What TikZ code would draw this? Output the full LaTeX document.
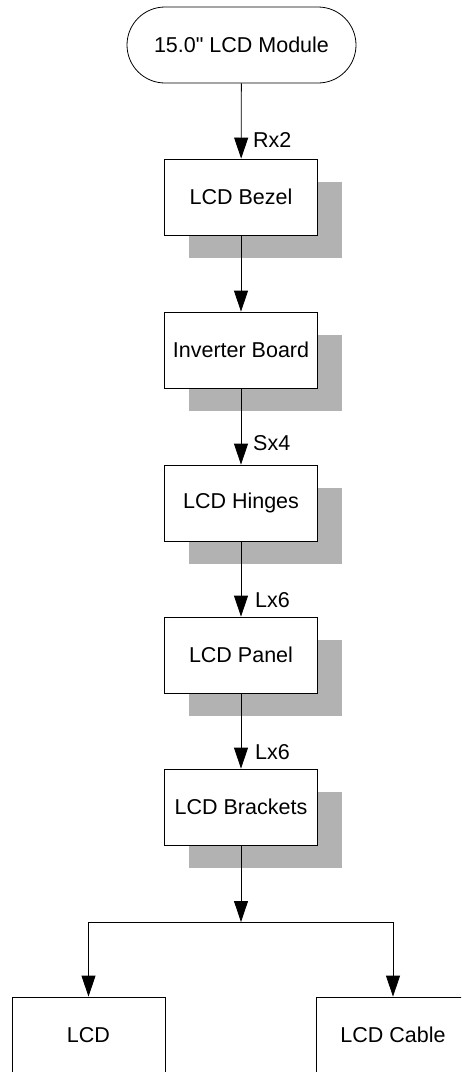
\documentclass[tikz,border=0pt]{standalone}
\usepackage{fontspec}
\setmainfont{Liberation Sans}[Ligatures=TeXOff]
\usetikzlibrary{arrows.meta}
\begin{document}
\begin{tikzpicture}[x=1pt,y=-1pt,
  box/.style={draw=black,line width=0.8pt,fill=white,minimum width=153pt,minimum height=76pt,inner sep=0pt,font=\fontsize{21.5}{25}\selectfont},
  shadowbox/.style={fill=black!30,draw=none,minimum width=153pt,minimum height=76pt,inner sep=0pt},
  lab/.style={anchor=west,font=\fontsize{21.5}{25}\selectfont,inner sep=0pt},
  arr/.style={line width=0.8pt,-{Triangle[length=21pt,width=14pt]}}]
\useasboundingbox (0,0) rectangle (461,1072);
\clip (0,0) rectangle (461,1072);
\node[box,rounded corners=38pt,minimum width=229pt] (start) at (241.5,45) {15.0" LCD Module};
% shadows
\node[shadowbox] (s1) at (265,220) {};
\node[shadowbox] (s2) at (265,373) {};
\node[shadowbox] (s3) at (265,526) {};
\node[shadowbox] (s4) at (265,678) {};
\node[shadowbox] (s5) at (265,830) {};
% boxes
\node[box] (bezel) at (241,197) {LCD Bezel};
\node[box] (inv) at (241,350) {Inverter Board};
\node[box] (hinge) at (241,503) {LCD Hinges};
\node[box] (panel) at (241,655) {LCD Panel};
\node[box] (brk) at (241,807) {LCD Brackets};
\node[box] (lcd) at (88.5,1035) {LCD};
\node[box] (cable) at (393,1035) {LCD Cable};
% connectors
\draw[arr] (start) -- (bezel);
\draw[arr] (bezel) -- (inv);
\draw[arr] (inv) -- (hinge);
\draw[arr] (hinge) -- (panel);
\draw[arr] (panel) -- (brk);
\coordinate (j) at (241,922);
\draw[arr] (brk) -- (j);
\draw[arr] (j) -| (lcd.north);
\draw[arr] (j) -| (cable.north);
% labels
\node[lab] (l1) at (253,140) {Rx2};
\node[lab] (l2) at (253,443) {Sx4};
\node[lab] (l3) at (255,600) {Lx6};
\node[lab] (l4) at (255,752) {Lx6};
\end{tikzpicture}
\end{document}
